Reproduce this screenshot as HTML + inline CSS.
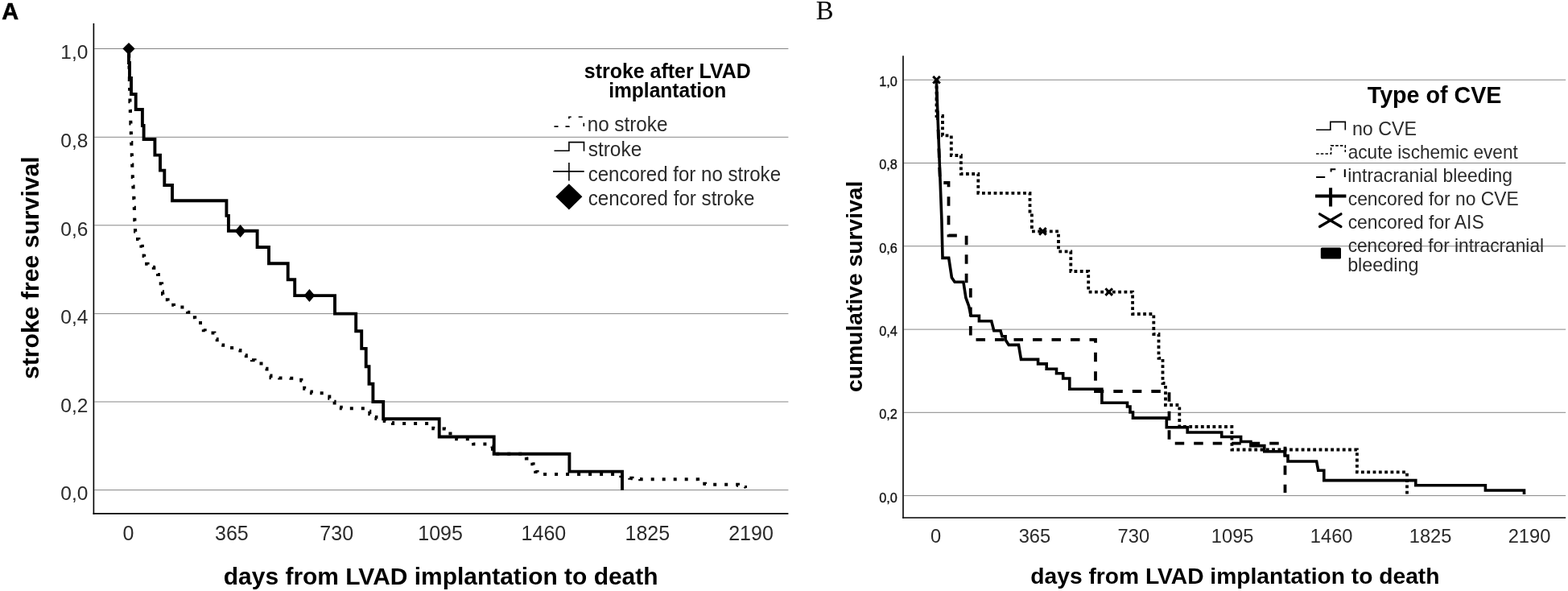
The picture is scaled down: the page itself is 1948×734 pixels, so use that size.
<!DOCTYPE html>
<html><head><meta charset="utf-8"><title>Kaplan-Meier curves</title>
<style>html,body{margin:0;padding:0;background:#fff;} body{width:1948px;height:734px;overflow:hidden;}</style>
</head><body>
<svg width="1948" height="734" viewBox="0 0 1948 734" style="display:block">
<rect width="1948" height="734" fill="#fff"/>
<line x1="117.3" y1="60.5" x2="979.4" y2="60.5" stroke="#868686" stroke-width="1"/>
<line x1="117.3" y1="170.3" x2="979.4" y2="170.3" stroke="#868686" stroke-width="1"/>
<line x1="117.3" y1="279.8" x2="979.4" y2="279.8" stroke="#868686" stroke-width="1"/>
<line x1="117.3" y1="389.6" x2="979.4" y2="389.6" stroke="#868686" stroke-width="1"/>
<line x1="117.3" y1="499.0" x2="979.4" y2="499.0" stroke="#868686" stroke-width="1"/>
<line x1="117.3" y1="608.6" x2="979.4" y2="608.6" stroke="#868686" stroke-width="1"/>
<line x1="116.4" y1="29" x2="116.4" y2="638.7" stroke="#000" stroke-width="1.6"/>
<line x1="115.6" y1="637.9" x2="979.4" y2="637.9" stroke="#000" stroke-width="1.6"/>
<text x="109.4" y="73.2" text-anchor="end" font-family="'Liberation Sans', Arial, Helvetica, sans-serif" font-size="24.5" fill="#2a2a2a">1,0</text>
<text x="109.4" y="183.0" text-anchor="end" font-family="'Liberation Sans', Arial, Helvetica, sans-serif" font-size="24.5" fill="#2a2a2a">0,8</text>
<text x="109.4" y="292.5" text-anchor="end" font-family="'Liberation Sans', Arial, Helvetica, sans-serif" font-size="24.5" fill="#2a2a2a">0,6</text>
<text x="109.4" y="402.3" text-anchor="end" font-family="'Liberation Sans', Arial, Helvetica, sans-serif" font-size="24.5" fill="#2a2a2a">0,4</text>
<text x="109.4" y="511.7" text-anchor="end" font-family="'Liberation Sans', Arial, Helvetica, sans-serif" font-size="24.5" fill="#2a2a2a">0,2</text>
<text x="109.4" y="621.3" text-anchor="end" font-family="'Liberation Sans', Arial, Helvetica, sans-serif" font-size="24.5" fill="#2a2a2a">0,0</text>
<text x="159.4" y="670.8" text-anchor="middle" font-family="'Liberation Sans', Arial, Helvetica, sans-serif" font-size="25" fill="#2a2a2a">0</text>
<text x="287.9" y="670.8" text-anchor="middle" font-family="'Liberation Sans', Arial, Helvetica, sans-serif" font-size="25" fill="#2a2a2a">365</text>
<text x="418.2" y="670.8" text-anchor="middle" font-family="'Liberation Sans', Arial, Helvetica, sans-serif" font-size="25" fill="#2a2a2a">730</text>
<text x="547.1" y="670.8" text-anchor="middle" font-family="'Liberation Sans', Arial, Helvetica, sans-serif" font-size="25" fill="#2a2a2a">1095</text>
<text x="675.4" y="670.8" text-anchor="middle" font-family="'Liberation Sans', Arial, Helvetica, sans-serif" font-size="25" fill="#2a2a2a">1460</text>
<text x="804.3" y="670.8" text-anchor="middle" font-family="'Liberation Sans', Arial, Helvetica, sans-serif" font-size="25" fill="#2a2a2a">1825</text>
<text x="933.0" y="670.8" text-anchor="middle" font-family="'Liberation Sans', Arial, Helvetica, sans-serif" font-size="25" fill="#2a2a2a">2190</text>
<path d="M160.00,60.50 L160.08,60.50 L160.08,64.36 L160.17,64.36 L160.17,68.22 L160.25,68.22 L160.25,72.08 L160.33,72.08 L160.33,75.94 L160.42,75.94 L160.42,79.81 L160.50,79.81 L160.50,83.67 L160.58,83.67 L160.58,87.53 L160.67,87.53 L160.67,91.39 L160.75,91.39 L160.75,95.25 L160.83,95.25 L160.83,99.11 L160.92,99.11 L160.92,102.97 L161.00,102.97 L161.00,106.83 L161.08,106.83 L161.08,110.69 L161.17,110.69 L161.17,114.56 L161.25,114.56 L161.25,118.42 L161.33,118.42 L161.33,122.28 L161.42,122.28 L161.42,126.14 L161.50,126.14 L161.50,130.00 L161.64,130.00 L161.64,133.92 L161.78,133.92 L161.78,137.83 L161.93,137.83 L161.93,141.75 L162.07,141.75 L162.07,145.67 L162.21,145.67 L162.21,149.58 L162.35,149.58 L162.35,153.50 L162.49,153.50 L162.49,157.42 L162.63,157.42 L162.63,161.33 L162.78,161.33 L162.78,165.25 L162.92,165.25 L162.92,169.17 L163.06,169.17 L163.06,173.08 L163.20,173.08 L163.20,177.00 L163.34,177.00 L163.34,180.92 L163.48,180.92 L163.48,184.83 L163.62,184.83 L163.62,188.75 L163.77,188.75 L163.77,192.67 L163.91,192.67 L163.91,196.58 L164.05,196.58 L164.05,200.50 L164.19,200.50 L164.19,204.42 L164.33,204.42 L164.33,208.33 L164.47,208.33 L164.47,212.25 L164.62,212.25 L164.62,216.17 L164.76,216.17 L164.76,220.08 L164.90,220.08 L164.90,224.00 L165.13,224.00 L165.13,227.71 L165.36,227.71 L165.36,231.43 L165.59,231.43 L165.59,235.14 L165.81,235.14 L165.81,238.86 L166.04,238.86 L166.04,242.57 L166.27,242.57 L166.27,246.29 L166.50,246.29 L166.50,250.00 L166.63,250.00 L166.63,253.86 L166.76,253.86 L166.76,257.71 L166.89,257.71 L166.89,261.57 L167.01,261.57 L167.01,265.43 L167.14,265.43 L167.14,269.29 L167.27,269.29 L167.27,273.14 L167.40,273.14 L167.40,277.00 L167.60,277.00 L167.60,280.50 L167.80,280.50 L167.80,284.00 L168.00,284.00 L168.00,287.50 L168.20,287.50 L168.20,291.00 L169.60,291.00 L169.60,294.00 L171.00,294.00 L171.00,297.00 L172.40,297.00 L172.40,300.00 L173.90,300.00 L173.90,302.83 L175.40,302.83 L175.40,305.67 L176.90,305.67 L176.90,308.50 L177.47,308.50 L177.47,311.62 L178.05,311.62 L178.05,314.75 L178.62,314.75 L178.62,317.88 L179.20,317.88 L179.20,321.00 L180.67,321.00 L180.67,324.33 L182.13,324.33 L182.13,327.67 L183.60,327.67 L183.60,331.00 L187.20,331.00 L187.20,331.83 L190.80,331.83 L190.80,332.67 L194.40,332.67 L194.40,333.50 L195.23,333.50 L195.23,337.23 L196.07,337.23 L196.07,340.97 L196.90,340.97 L196.90,344.70 L198.30,344.70 L198.30,348.47 L199.70,348.47 L199.70,352.23 L201.10,352.23 L201.10,356.00 L201.40,356.00 L201.40,359.10 L201.70,359.10 L201.70,362.20 L202.00,362.20 L202.00,365.30 L202.30,365.30 L202.30,368.40 L205.45,368.40 L205.45,372.20 L208.60,372.20 L208.60,376.00 L212.30,376.00 L212.30,378.80 L216.00,378.80 L216.00,381.60 L230.30,381.60 L231.63,381.60 L231.63,384.67 L232.97,384.67 L232.97,387.73 L234.30,387.73 L234.30,390.80 L238.25,390.80 L238.25,394.15 L242.20,394.15 L242.20,397.50 L245.60,397.50 L245.60,401.00 L249.00,401.00 L249.00,404.50 L250.90,404.50 L250.90,407.33 L252.80,407.33 L252.80,410.17 L254.70,410.17 L254.70,413.00 L258.60,413.00 L258.60,413.23 L262.50,413.23 L262.50,413.47 L266.40,413.47 L266.40,413.70 L267.50,413.70 L267.50,417.43 L268.60,417.43 L268.60,421.17 L269.70,421.17 L269.70,424.90 L273.45,424.90 L273.45,428.40 L277.20,428.40 L277.20,431.90 L291.40,431.90 L294.90,431.90 L294.90,434.90 L298.40,434.90 L298.40,437.90 L302.10,437.90 L302.10,441.15 L305.80,441.15 L305.80,444.40 L309.40,444.40 L309.40,445.80 L313.00,445.80 L313.00,447.20 L316.60,447.20 L316.60,448.60 L320.55,448.60 L320.55,451.45 L324.50,451.45 L324.50,454.30 L328.00,454.30 L328.00,457.70 L331.50,457.70 L331.50,461.10 L333.17,461.10 L333.17,463.83 L334.83,463.83 L334.83,466.57 L336.50,466.57 L336.50,469.30 L340.06,469.30 L340.06,469.36 L343.62,469.36 L343.62,469.43 L347.19,469.43 L347.19,469.49 L350.75,469.49 L350.75,469.55 L354.31,469.55 L354.31,469.61 L357.88,469.61 L357.88,469.68 L361.44,469.68 L361.44,469.74 L365.00,469.74 L365.00,469.80 L368.13,469.80 L368.13,470.80 L371.27,470.80 L371.27,471.80 L374.40,471.80 L374.40,472.80 L375.67,472.80 L375.67,476.13 L376.93,476.13 L376.93,479.47 L378.20,479.47 L378.20,482.80 L381.10,482.80 L381.10,484.63 L384.00,484.63 L384.00,486.47 L386.90,486.47 L386.90,488.30 L401.10,488.30 L403.83,488.30 L403.83,490.43 L406.57,490.43 L406.57,492.57 L409.30,492.57 L409.30,494.70 L412.45,494.70 L412.45,498.70 L415.60,498.70 L415.60,502.70 L418.33,502.70 L418.33,504.20 L421.07,504.20 L421.07,505.70 L423.80,505.70 L423.80,507.20 L452.00,507.20 L455.65,507.20 L455.65,510.75 L459.30,510.75 L459.30,514.30 L462.00,514.30 L462.00,516.20 L464.70,516.20 L464.70,518.10 L467.40,518.10 L467.40,520.00 L470.83,520.00 L470.83,520.98 L474.27,520.98 L474.27,521.97 L477.70,521.97 L477.70,522.95 L481.13,522.95 L481.13,523.93 L484.57,523.93 L484.57,524.92 L488.00,524.92 L488.00,525.90 L530.50,525.90 L534.40,525.90 L534.40,529.10 L538.30,529.10 L538.30,532.30 L541.72,532.30 L541.72,532.32 L545.15,532.32 L545.15,532.35 L548.58,532.35 L548.58,532.38 L552.00,532.38 L552.00,532.40 L555.70,532.40 L555.70,535.45 L559.40,535.45 L559.40,538.50 L563.30,538.50 L563.30,541.85 L567.20,541.85 L567.20,545.20 L581.30,545.20 L584.70,545.20 L584.70,548.40 L588.10,548.40 L588.10,551.60 L611.00,551.60 L611.50,551.60 L611.50,554.62 L612.00,554.62 L612.00,557.65 L612.50,557.65 L612.50,560.68 L613.00,560.68 L613.00,563.70 L650.00,563.70 L651.95,563.70 L651.95,566.65 L653.90,566.65 L653.90,569.60 L657.60,569.60 L657.60,572.90 L661.30,572.90 L661.30,576.20 L662.60,576.20 L662.60,579.47 L663.90,579.47 L663.90,582.73 L665.20,582.73 L665.20,586.00 L667.60,586.00 L667.60,587.45 L670.00,587.45 L670.00,588.90 L760.30,588.90 L763.97,588.90 L763.97,589.72 L767.63,589.72 L767.63,590.53 L771.30,590.53 L771.30,591.35 L774.97,591.35 L774.97,592.17 L778.63,592.17 L778.63,592.98 L782.30,592.98 L782.30,593.80 L785.52,593.80 L785.52,594.17 L788.75,594.17 L788.75,594.55 L791.98,594.55 L791.98,594.92 L795.20,594.92 L795.20,595.30 L864.20,595.30 L867.07,595.30 L867.07,597.10 L869.93,597.10 L869.93,598.90 L872.80,598.90 L872.80,600.70 L876.05,600.70 L876.05,600.98 L879.30,600.98 L879.30,601.25 L882.55,601.25 L882.55,601.52 L885.80,601.52 L885.80,601.80 L913.80,601.80 L917.03,601.80 L917.03,602.87 L920.27,602.87 L920.27,603.93 L923.50,603.93 L923.50,605.00 L926.00,605.00 L926.00,606.00" fill="none" stroke="#000" stroke-width="4" stroke-dasharray="4 10" stroke-dashoffset="6.5"/>
<path d="M160,60.5 V78 H161 V97 H163 V117 H168.7 V136 H176.9 V156 H178.6 V173 H192.4 V192.6 H199 V211.6 H204.3 V230 H214 V249.2 H281.4 V267.9 H283.9 V286.8 H319.6 V307 H334 V327.2 H357.7 V347.2 H366.2 V367.1 H416 V389.6 H442.2 V411.2 H449.2 V432.9 H454.7 V455.3 H458.5 V476.8 H463.4 V499 H476.2 V520.2 H545.7 V542.5 H613.7 V563.7 H707.4 V585.6 H773 V608.7" fill="none" stroke="#000" stroke-width="3.9"/>
<path d="M160,52.9 L167.6,60.5 L160,68.1 L152.4,60.5 Z" fill="#000"/>
<path d="M298.6,279 L305.40000000000003,287 L298.6,295 L291.8,287 Z" fill="#000"/>
<path d="M384.4,359.1 L391.2,367.1 L384.4,375.1 L377.59999999999997,367.1 Z" fill="#000"/>
<path d="M688.5,157.1 H706.9 V145.3 H725.3 V157" fill="none" stroke="#000" stroke-width="1.6" stroke-dasharray="5 9"/>
<path d="M688.5,187.2 H706.9 V176.6 H725.5 V187.8" fill="none" stroke="#000" stroke-width="1.6"/>
<path d="M687.1,212.9 H725.7 M706.9,201.9 V224.4" fill="none" stroke="#000" stroke-width="1.6"/>
<path d="M706.9,228.3 L723.4,244.3 L706.9,260.4 L690.3,244.3 Z" fill="#000"/>
<line x1="1122.8" y1="99.2" x2="1945.2" y2="99.2" stroke="#868686" stroke-width="1"/>
<line x1="1122.8" y1="202.5" x2="1945.2" y2="202.5" stroke="#868686" stroke-width="1"/>
<line x1="1122.8" y1="305.7" x2="1945.2" y2="305.7" stroke="#868686" stroke-width="1"/>
<line x1="1122.8" y1="409.1" x2="1945.2" y2="409.1" stroke="#868686" stroke-width="1"/>
<line x1="1122.8" y1="512.3" x2="1945.2" y2="512.3" stroke="#868686" stroke-width="1"/>
<line x1="1122.8" y1="615.6" x2="1945.2" y2="615.6" stroke="#868686" stroke-width="1"/>
<line x1="1122" y1="69.2" x2="1122" y2="643.8" stroke="#000" stroke-width="1.6"/>
<line x1="1121.2" y1="643" x2="1945.2" y2="643" stroke="#000" stroke-width="1.6"/>
<text x="1114.9" y="107.1" text-anchor="end" font-family="'Liberation Sans', Arial, Helvetica, sans-serif" font-size="16.3" fill="#111" stroke="#111" stroke-width="0.35">1,0</text>
<text x="1114.9" y="210.4" text-anchor="end" font-family="'Liberation Sans', Arial, Helvetica, sans-serif" font-size="16.3" fill="#111" stroke="#111" stroke-width="0.35">0,8</text>
<text x="1114.9" y="313.6" text-anchor="end" font-family="'Liberation Sans', Arial, Helvetica, sans-serif" font-size="16.3" fill="#111" stroke="#111" stroke-width="0.35">0,6</text>
<text x="1114.9" y="417.0" text-anchor="end" font-family="'Liberation Sans', Arial, Helvetica, sans-serif" font-size="16.3" fill="#111" stroke="#111" stroke-width="0.35">0,4</text>
<text x="1114.9" y="520.2" text-anchor="end" font-family="'Liberation Sans', Arial, Helvetica, sans-serif" font-size="16.3" fill="#111" stroke="#111" stroke-width="0.35">0,2</text>
<text x="1114.9" y="623.5" text-anchor="end" font-family="'Liberation Sans', Arial, Helvetica, sans-serif" font-size="16.3" fill="#111" stroke="#111" stroke-width="0.35">0,0</text>
<text x="1162.5" y="674.4" text-anchor="middle" font-family="'Liberation Sans', Arial, Helvetica, sans-serif" font-size="23.7" fill="#2a2a2a">0</text>
<text x="1285.4" y="674.4" text-anchor="middle" font-family="'Liberation Sans', Arial, Helvetica, sans-serif" font-size="23.7" fill="#2a2a2a">365</text>
<text x="1408.3" y="674.4" text-anchor="middle" font-family="'Liberation Sans', Arial, Helvetica, sans-serif" font-size="23.7" fill="#2a2a2a">730</text>
<text x="1531.2" y="674.4" text-anchor="middle" font-family="'Liberation Sans', Arial, Helvetica, sans-serif" font-size="23.7" fill="#2a2a2a">1095</text>
<text x="1654.2" y="674.4" text-anchor="middle" font-family="'Liberation Sans', Arial, Helvetica, sans-serif" font-size="23.7" fill="#2a2a2a">1460</text>
<text x="1777.1" y="674.4" text-anchor="middle" font-family="'Liberation Sans', Arial, Helvetica, sans-serif" font-size="23.7" fill="#2a2a2a">1825</text>
<text x="1900.0" y="674.4" text-anchor="middle" font-family="'Liberation Sans', Arial, Helvetica, sans-serif" font-size="23.7" fill="#2a2a2a">2190</text>
<path d="M1163.3,99.2 L1167.9,227 H1178.5 V292.5 H1200.6 V358 H1205.8 V421.8 H1361 V486 H1452.5 V550.6 H1596.5 V612" fill="none" stroke="#000" stroke-width="3.8" stroke-dasharray="11.5 12" stroke-dashoffset="8.7"/>
<path d="M1163.5,99.2 V144 H1171 V168.4 H1181.8 V193 H1193.9 V216 H1215.3 V239.8 H1279.5 V265 H1281.9 V287.3 H1315 V312.3 H1330.3 V337 H1352.2 V362.6 H1407.1 V390 H1433.3 V415 H1439.5 V444.8 H1444.5 V476 H1448 V503 H1465.3 V530 H1530.4 V558.5 H1685.9 V586.4 H1748 V614.5" fill="none" stroke="#000" stroke-width="3.8" stroke-dasharray="3.8 3.5"/>
<path d="M1163.30,99.20 L1169.90,273.00 L1171.00,320.40 L1178.70,320.40 L1182.40,344.80 L1186.10,350.30 L1196.90,350.30 L1199.90,369.70 L1203.60,380.00 L1206.20,392.30 L1216.40,392.30 L1216.40,398.80 L1231.70,398.80 L1234.80,410.70 L1243.00,410.70 L1245.00,417.80 L1249.10,417.80 L1249.10,421.90 L1253.20,428.40 L1265.50,428.40 L1268.50,446.40 H1289.6 V451.9 H1300.2 V458.3 H1312.5 V463.8 H1320.7 V470 H1328.8 V483.2 H1368.9 V500.2 H1400.5 V505 H1404 V512 H1407.5 V519.1 H1449.3 V530.7 H1475.2 V537 H1517.7 V542.5 H1541.6 V548.5 H1553.9 V553.6 H1570.8 V560.7 H1596.2 V566 H1600 V573 H1635.6 L1637.7,584.2 H1644.8 V596.6 H1758.8 V602.7 H1845.4 V609 H1893.5 V614" fill="none" stroke="#000" stroke-width="3.6"/>
<path d="M1159.2,94.9 L1167.8,103.5 M1159.2,103.5 L1167.8,94.9" stroke="#000" stroke-width="3" fill="none"/>
<path d="M1291.1000000000001,283.0 L1299.7,291.6 M1291.1000000000001,291.6 L1299.7,283.0" stroke="#000" stroke-width="3" fill="none"/>
<path d="M1373.4,358.3 L1382.0,366.90000000000003 M1373.4,366.90000000000003 L1382.0,358.3" stroke="#000" stroke-width="3" fill="none"/>
<path d="M1635.1,161.2 H1652.8 V151.4 H1671.3 V161.6" fill="none" stroke="#000" stroke-width="1.6"/>
<path d="M1635.1,191 H1653.6 V180.9 H1671.3 V189" fill="none" stroke="#000" stroke-width="1.6" stroke-dasharray="3.5 2.2"/>
<path d="M1635.1,220.1 H1646.2 M1653.6,213.5 V210.3 H1659.3 M1670.8,210.3 V220.1" fill="none" stroke="#000" stroke-width="2"/>
<path d="M1634,243.5 H1672.4 M1653.1,233.2 V256.4" fill="none" stroke="#000" stroke-width="4"/>
<path d="M1639.5,265.8 L1666,281.5 M1639.5,281.5 L1666,265.8" fill="none" stroke="#000" stroke-width="3.2" stroke-linecap="round"/>
<rect x="1640.8" y="307.5" width="25.2" height="13.9" rx="1.5" fill="#000"/>
<text x="2.37" y="23.70" font-family="'Liberation Sans', Arial, Helvetica, sans-serif" font-weight="bold" font-size="30.3" fill="#000" stroke="#000" stroke-width="0.6" textLength="20.89" lengthAdjust="spacingAndGlyphs">A</text>
<text x="277.84" y="725.80" font-family="'Liberation Sans', Arial, Helvetica, sans-serif" font-weight="bold" font-size="29.6" fill="#000" textLength="539.72" lengthAdjust="spacingAndGlyphs">days from LVAD implantation to death</text>
<text transform="translate(47.90,471.02) rotate(-90)" font-family="'Liberation Sans', Arial, Helvetica, sans-serif" font-weight="bold" font-size="29.6" fill="#000" textLength="276.73" lengthAdjust="spacingAndGlyphs">stroke free survival</text>
<text x="725.83" y="96.90" font-family="'Liberation Sans', Arial, Helvetica, sans-serif" font-weight="bold" font-size="25.8" fill="#000" textLength="206.90" lengthAdjust="spacingAndGlyphs">stroke after LVAD</text>
<text x="756.13" y="121.00" font-family="'Liberation Sans', Arial, Helvetica, sans-serif" font-weight="bold" font-size="25.8" fill="#000" textLength="146.09" lengthAdjust="spacingAndGlyphs">implantation</text>
<text x="729.63" y="163.00" font-family="'Liberation Sans', Arial, Helvetica, sans-serif" font-weight="normal" font-size="25.5" fill="#2a2a2a" textLength="99.85" lengthAdjust="spacingAndGlyphs">no stroke</text>
<text x="730.68" y="193.60" font-family="'Liberation Sans', Arial, Helvetica, sans-serif" font-weight="normal" font-size="25.5" fill="#2a2a2a" textLength="66.66" lengthAdjust="spacingAndGlyphs">stroke</text>
<text x="730.66" y="224.50" font-family="'Liberation Sans', Arial, Helvetica, sans-serif" font-weight="normal" font-size="25.5" fill="#2a2a2a" textLength="239.36" lengthAdjust="spacingAndGlyphs">cencored for no stroke</text>
<text x="730.65" y="255.00" font-family="'Liberation Sans', Arial, Helvetica, sans-serif" font-weight="normal" font-size="25.5" fill="#2a2a2a" textLength="206.71" lengthAdjust="spacingAndGlyphs">cencored for stroke</text>
<text x="1013.81" y="23.60" font-family="'Liberation Serif', 'Times New Roman', serif" font-weight="normal" font-size="33" fill="#000" textLength="21.79" lengthAdjust="spacingAndGlyphs">B</text>
<text x="1280.39" y="725.40" font-family="'Liberation Sans', Arial, Helvetica, sans-serif" font-weight="bold" font-size="27.8" fill="#000" textLength="508.07" lengthAdjust="spacingAndGlyphs">days from LVAD implantation to death</text>
<text transform="translate(1071.20,487.02) rotate(-90)" font-family="'Liberation Sans', Arial, Helvetica, sans-serif" font-weight="bold" font-size="27.8" fill="#000" textLength="262.47" lengthAdjust="spacingAndGlyphs">cumulative survival</text>
<text x="1698.76" y="127.80" font-family="'Liberation Sans', Arial, Helvetica, sans-serif" font-weight="bold" font-size="29.3" fill="#000" textLength="166.64" lengthAdjust="spacingAndGlyphs">Type of CVE</text>
<text x="1679.95" y="168.10" font-family="'Liberation Sans', Arial, Helvetica, sans-serif" font-weight="normal" font-size="24.0" fill="#2a2a2a" textLength="79.98" lengthAdjust="spacingAndGlyphs">no CVE</text>
<text x="1674.76" y="197.20" font-family="'Liberation Sans', Arial, Helvetica, sans-serif" font-weight="normal" font-size="24.0" fill="#2a2a2a" textLength="211.04" lengthAdjust="spacingAndGlyphs">acute ischemic event</text>
<text x="1674.27" y="225.80" font-family="'Liberation Sans', Arial, Helvetica, sans-serif" font-weight="normal" font-size="24.0" fill="#2a2a2a" textLength="204.71" lengthAdjust="spacingAndGlyphs">intracranial bleeding</text>
<text x="1674.75" y="255.20" font-family="'Liberation Sans', Arial, Helvetica, sans-serif" font-weight="normal" font-size="24.0" fill="#2a2a2a" textLength="211.94" lengthAdjust="spacingAndGlyphs">cencored for no CVE</text>
<text x="1674.65" y="284.40" font-family="'Liberation Sans', Arial, Helvetica, sans-serif" font-weight="normal" font-size="24.0" fill="#2a2a2a" textLength="169.08" lengthAdjust="spacingAndGlyphs">cencored for AIS</text>
<text x="1674.65" y="313.30" font-family="'Liberation Sans', Arial, Helvetica, sans-serif" font-weight="normal" font-size="24.0" fill="#2a2a2a" textLength="243.43" lengthAdjust="spacingAndGlyphs">cencored for intracranial</text>
<text x="1674.14" y="337.00" font-family="'Liberation Sans', Arial, Helvetica, sans-serif" font-weight="normal" font-size="24.0" fill="#2a2a2a" textLength="88.32" lengthAdjust="spacingAndGlyphs">bleeding</text>
</svg>
</body></html>
